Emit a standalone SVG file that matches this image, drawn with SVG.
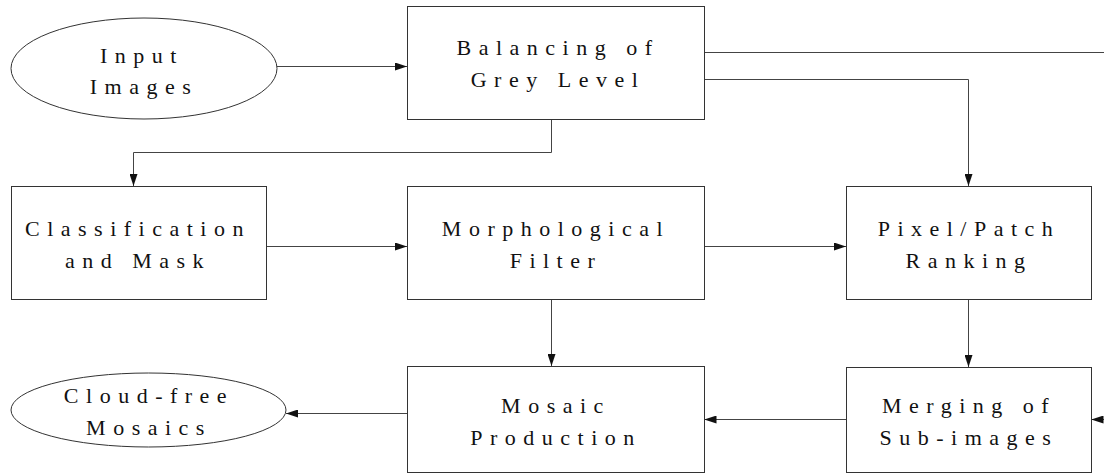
<svg xmlns="http://www.w3.org/2000/svg" width="1104" height="475" viewBox="0 0 1104 475">
<style>
.n{fill:#fff;stroke:#333;stroke-width:1}
.t{font-family:'Liberation Serif','Times New Roman',serif;font-size:22px;fill:#111;text-anchor:middle;letter-spacing:7.5px}
.c{fill:none;stroke:#444;stroke-width:1}
</style>
<defs>
<marker id="ah" markerUnits="userSpaceOnUse" markerWidth="12" markerHeight="8" refX="12" refY="4" orient="auto">
<path d="M0,0 L12,4 L0,8 z" fill="#111"/>
</marker>
</defs>
<rect width="1104" height="475" fill="#fff"/>
<g id="connectors">
<path class="c" d="M277,66.5 H407" marker-end="url(#ah)"/>
<path class="c" d="M704.5,52.5 H1104"/>
<path class="c" d="M704.5,79.5 H968.5 V186" marker-end="url(#ah)"/>
<path class="c" d="M551.5,119 V152.5 H133.5 V186" marker-end="url(#ah)"/>
<path class="c" d="M266,246.5 H407" marker-end="url(#ah)"/>
<path class="c" d="M704.5,246.5 H846" marker-end="url(#ah)"/>
<path class="c" d="M551.5,300 V366" marker-end="url(#ah)"/>
<path class="c" d="M968.5,300 V367" marker-end="url(#ah)"/>
<path class="c" d="M846,419.5 H704.5" marker-end="url(#ah)"/>
<path class="c" d="M407.5,413.5 H286" marker-end="url(#ah)"/>
<path class="c" d="M1104,419.5 H1091.5" marker-end="url(#ah)"/>
</g>
<g id="input-images">
<ellipse class="n" cx="144" cy="68.5" rx="133" ry="50.5"/>
<text class="t" x="142" y="63">Input</text>
<text class="t" x="144" y="94">Images</text>
</g>
<g id="balancing">
<rect class="n" x="407.5" y="6.5" width="297" height="113"/>
<text class="t" x="558" y="55">Balancing of</text>
<text class="t" x="558" y="87">Grey Level</text>
</g>
<g id="classification">
<rect class="n" x="11.5" y="186.5" width="255" height="113"/>
<text class="t" x="138" y="236">Classification</text>
<text class="t" x="138" y="268">and Mask</text>
</g>
<g id="morphological">
<rect class="n" x="407.5" y="186.5" width="297" height="113"/>
<text class="t" x="556" y="236">Morphological</text>
<text class="t" x="556" y="268">Filter</text>
</g>
<g id="pixel-patch">
<rect class="n" x="846.5" y="186.5" width="245" height="113"/>
<text class="t" x="969" y="236">Pixel/Patch</text>
<text class="t" x="969" y="268">Ranking</text>
</g>
<g id="mosaic-production">
<rect class="n" x="407.5" y="366.5" width="297" height="106"/>
<text class="t" x="556" y="413">Mosaic</text>
<text class="t" x="556" y="445">Production</text>
</g>
<g id="merging">
<rect class="n" x="846.5" y="367.5" width="245" height="105"/>
<text class="t" x="969" y="413">Merging of</text>
<text class="t" x="969" y="445">Sub-images</text>
</g>
<g id="cloud-free">
<ellipse class="n" cx="148.5" cy="410" rx="137.5" ry="37"/>
<text class="t" x="149" y="403">Cloud-free</text>
<text class="t" x="149" y="435">Mosaics</text>
</g>
</svg>
